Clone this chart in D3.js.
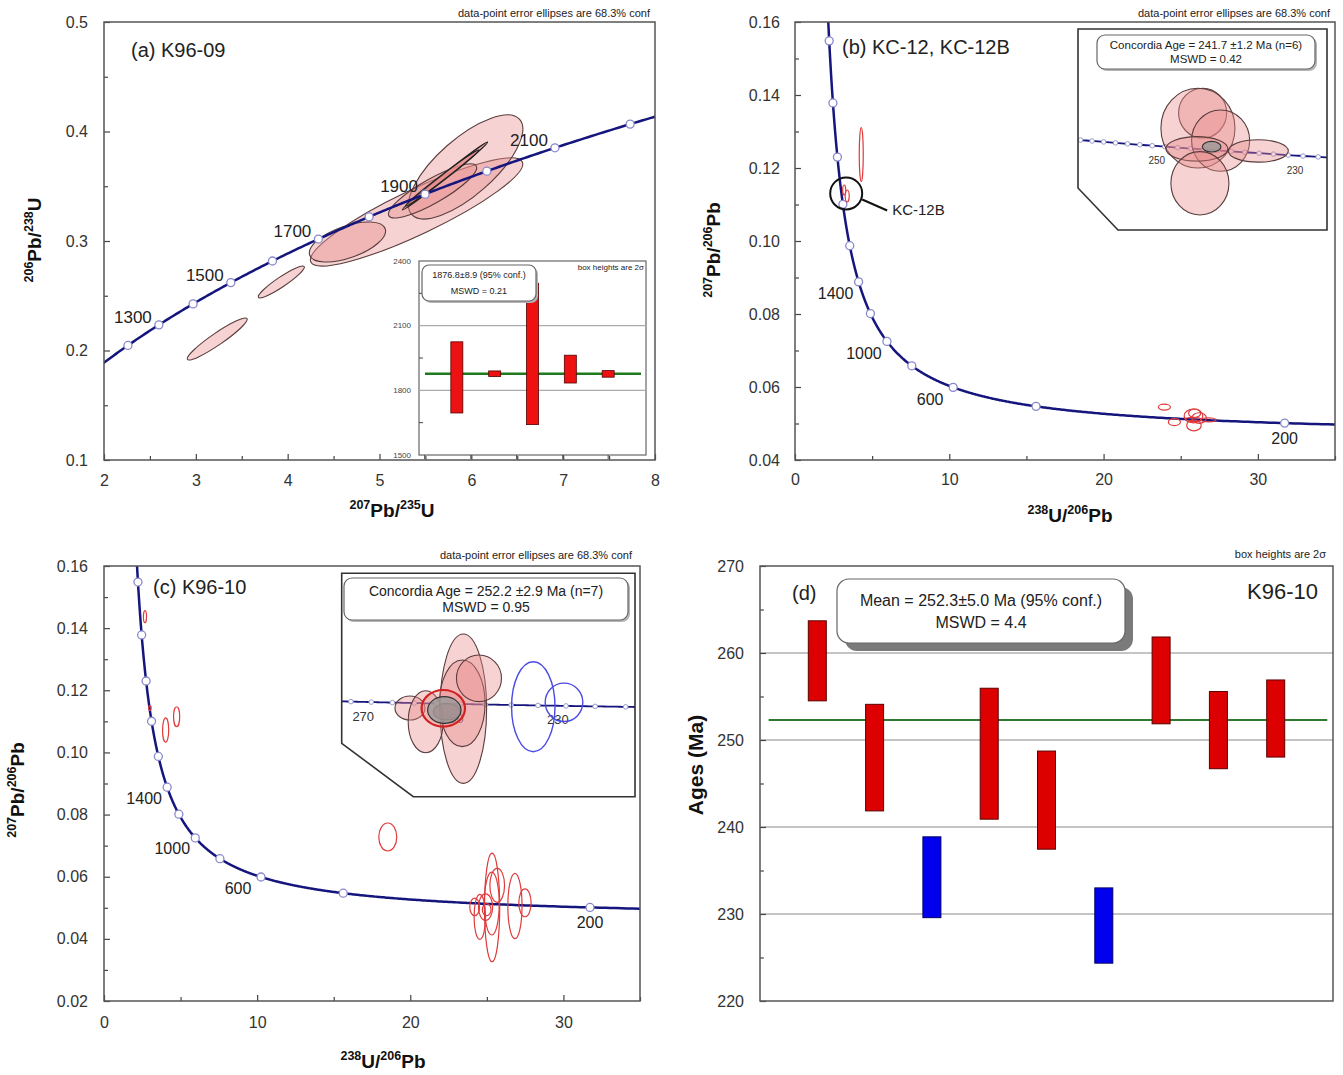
<!DOCTYPE html>
<html><head><meta charset="utf-8">
<script src="https://cdn.jsdelivr.net/npm/d3@7"></script>
<style>body{margin:0;background:#fff;} svg{font-family:"Liberation Sans",Arial,sans-serif;}</style>
</head><body>
<svg id="c" width="1343" height="1075"></svg>
<script>
// ================= DATA =================
// decay constants (per Ma) used for the concordia reference curves
const L238 = 1.55125e-4, L235 = 9.8485e-4, U85 = 137.88;

// ---- panel (a) K96-09, Wetherill concordia ----
const aDotAges   = [1200,1300,1400,1500,1600,1700,1800,1900,2000,2100,2200];
const aLabelAges = [1300,1500,1700,1900,2100];
const aXTicks = [2,3,4,5,6,7,8];
const aYTicks = [0.1,0.2,0.3,0.4,0.5];
const aEllX   = [3.233, 3.931, 5.404, 5.938, 4.651, 5.578, 5.714, 5.682];
const aEllY   = [0.2105, 0.2626, 0.3265, 0.3676, 0.2991, 0.3457, 0.3594, 0.3575];
const aEllSx  = [0.327, 0.251, 1.156, 0.622, 0.415, 0.48, 0.464, 0.398];
const aEllSy  = [0.0192, 0.0146, 0.0493, 0.0475, 0.0183, 0.0247, 0.031, 0.0256];
const aEllRho = [0.94, 0.93, 0.89, 0.73, 0.55, 0.86, 0.996, 0.993];
// inset weighted mean (Ma)
const aMeanLo = [1695, 1864, 1641, 1834, 1861];
const aMeanHi = [2025, 1890, 2297, 1963, 1891.5];
const aMean = 1876.8;
const aInsetTicks = [1500,1800,2100,2400];

// ---- Tera-Wasserburg concordia markers (panels b, c) ----
const twDotAges   = [200,400,600,800,1000,1200,1400,1600,1800,2000,2200,2400];
const twLabelAges = [200,600,1000,1400];
const twXTicks = [0,10,20,30];
const bYTicks = [0.04,0.06,0.08,0.10,0.12,0.14,0.16];
const cYTicks = [0.02,0.04,0.06,0.08,0.10,0.12,0.14,0.16];

// ---- panel (b) KC-12, KC-12B ----
const bEllX  = [25.902, 25.826, 26.194, 25.809, 26.805, 25.858];
const bEllY  = [0.05279, 0.05208, 0.05149, 0.05110, 0.05100, 0.04947];
const bEllSx = [0.390, 0.601, 0.471, 0.503, 0.487, 0.471];
const bEllSy = [0.00118, 0.00189, 0.00145, 0.00058, 0.00053, 0.00150];
const bOutX  = [23.94, 24.59, 4.294, 3.188, 3.383];
const bOutY  = [0.0545, 0.0504, 0.1237, 0.11397, 0.11233];
const bOutSx = [0.39, 0.39, 0.13, 0.10, 0.13];
const bOutSy = [0.00082, 0.00096, 0.0074, 0.00137, 0.00164];
const bConc  = {age: 241.7, x: 26.048, y: 0.05120, sx: 0.151, sy: 0.00025};
const bInsetDotAges = [200,202,204,206,208,210,212,214,216,218,220,222,224,226,228,230,232,234,236,238,240,242,244,246,248,250,252,254,256,258,260,262,264,266,268,270,272,274,276,278,280];
const bInsetLabelAges = [230,250,270];
const bCallout = {x: 3.318, y: 0.11302, label: "KC-12B"};

// ---- panel (c) K96-10 ----
const cEllX  = [25.342, 25.320, 25.676, 24.205, 24.540, 24.915, 24.988];
const cEllY  = [0.05011, 0.05137, 0.05722, 0.05027, 0.04707, 0.05020, 0.04940];
const cEllSx = [0.497, 0.486, 0.480, 0.320, 0.373, 0.463, 0.284];
const cEllSy = [0.01747, 0.01013, 0.00545, 0.00281, 0.00725, 0.00428, 0.00194];
const cRejX  = [26.834, 27.489];
const cRejY  = [0.05057, 0.05160];
const cRejSx = [0.463, 0.401];
const cRejSy = [0.01052, 0.00449];
const cOutX  = [2.675, 3.0, 4.025, 4.742, 18.53];
const cOutY  = [0.14368, 0.1143, 0.10722, 0.1115, 0.07278];
const cOutSx = [0.10, 0.08, 0.20, 0.20, 0.587];
const cOutSy = [0.00193, 0.0008, 0.0039, 0.0032, 0.0045];
const cConc  = {age: 252.2, x: 24.937, y: 0.04980, sx: 0.356, sy: 0.00311};
const cInsetDotAges = [200,205,210,215,220,225,230,235,240,245,250,255,260,265,270,275,280,285,290];
const cInsetLabelAges = [230,250,270];

// ---- panel (d) K96-10 weighted mean ----
const dLo = [254.5, 241.85, 229.58, 240.9, 237.45, 224.35, 251.86, 246.7, 248.04];
const dHi = [263.7, 254.1, 238.87, 255.95, 248.73, 233.0, 261.84, 255.57, 256.9];
const dRejected = [false,false,true,false,false,true,false,false,false];
const dMean = 252.3;
const dYTicks = [220,230,240,250,260,270];
const dMinor = [225,235,245,255,265];

// ================= HELPERS =================
const svg = d3.select('#c');
const defs = svg.append('defs');
const wether = t => [Math.exp(L235*t)-1, Math.exp(L238*t)-1];
const tw = t => { const e8 = Math.exp(L238*t)-1, e5 = Math.exp(L235*t)-1; return [1/e8, e5/e8/U85]; };

function ellipse(g, xs, ys, cx, cy, sx, sy, rho){
  const kx = (xs.range()[1]-xs.range()[0])/(xs.domain()[1]-xs.domain()[0]);
  const ky = (ys.range()[1]-ys.range()[0])/(ys.domain()[1]-ys.domain()[0]);
  const px = kx*sx, py = ky*sy;
  const cxx = px*px, cyy = py*py, cxy = rho*px*py;
  const th = 0.5*Math.atan2(2*cxy, cxx-cyy);
  const m = (cxx+cyy)/2, d = Math.sqrt(((cxx-cyy)/2)**2 + cxy*cxy);
  const r1 = Math.sqrt(m+d), r2 = Math.sqrt(Math.max(m-d, 0.02));
  return g.append('ellipse').attr('rx', r1).attr('ry', r2)
    .attr('transform', `translate(${xs(cx)},${ys(cy)}) rotate(${th*180/Math.PI})`);
}

function clip(id, x, y, w, h){
  defs.append('clipPath').attr('id', id).append('rect').attr('x',x).attr('y',y).attr('width',w).attr('height',h);
}

function axes(g, xs, ys, o){
  const y0 = ys.range()[0], x0 = xs.range()[0];
  const style = s => { s.select('.domain').remove(); s.selectAll('line').attr('stroke','#444').attr('stroke-width',1.2);
    s.selectAll('text').attr('fill','#333').attr('font-size', o.fs||16).attr('font-family','"Liberation Sans",Arial,sans-serif'); };
  if (o.xTicks) g.append('g').attr('transform',`translate(0,${y0})`)
    .call(d3.axisBottom(xs).tickValues(o.xTicks).tickSize(-6).tickPadding(o.xPad||14).tickFormat(o.xFmt)).call(style);
  if (o.xMinor) g.append('g').attr('transform',`translate(0,${y0})`)
    .call(d3.axisBottom(xs).tickValues(o.xMinor).tickSize(-4).tickFormat('')).call(style);
  g.append('g').attr('transform',`translate(${x0},0)`)
    .call(d3.axisLeft(ys).tickValues(o.yTicks).tickSize(-6).tickPadding(o.yPad||15).tickFormat(o.yFmt)).call(style);
  if (o.yMinor) g.append('g').attr('transform',`translate(${x0},0)`)
    .call(d3.axisLeft(ys).tickValues(o.yMinor).tickSize(-4).tickFormat('')).call(style);
  const [xa,xb] = xs.range(), [ya,yb] = ys.range();
  g.append('rect').attr('x',xa).attr('y',yb).attr('width',xb-xa).attr('height',ya-yb)
    .attr('fill','none').attr('stroke','#555').attr('stroke-width',1.5);
}

function isoTitle(x, y, segs, size, rot){
  const t = svg.append('text').attr('x',x).attr('y',y).attr('text-anchor','middle')
    .attr('font-weight','bold').attr('font-size',size).attr('fill','#111');
  if (rot) t.attr('transform',`rotate(-90,${x},${y})`);
  let up = false;
  segs.forEach(([s,sup]) => {
    const ts = t.append('tspan').text(s);
    if (sup && !up){ ts.attr('dy', -size*0.42).attr('font-size', size*0.66); up = true; }
    else if (sup && up){ ts.attr('font-size', size*0.66); }
    else if (!sup && up){ ts.attr('dy', size*0.42); up = false; }
  });
}

// text box: lines centred vertically with a given line gap
function textBox(x, y, w, h, lines, fs, shadow, r, gap){
  if (shadow) svg.append('rect').attr('x',x+shadow).attr('y',y+shadow).attr('width',w).attr('height',h).attr('rx',r).attr('fill', shadow>4 ? '#7a7a7a' : '#b5b5b5');
  svg.append('rect').attr('x',x).attr('y',y).attr('width',w).attr('height',h).attr('rx',r)
    .attr('fill','#fff').attr('stroke','#666').attr('stroke-width',1.2);
  const mid = y + h/2, n = lines.length;
  lines.forEach((l,i) => svg.append('text').attr('x',x+w/2).attr('y', mid + (i-(n-1)/2)*gap + fs*0.35)
    .attr('text-anchor','middle').attr('font-size',fs).attr('fill','#222').text(l));
}

function note(x, y, txt, fs){
  svg.append('text').attr('x',x).attr('y',y).attr('text-anchor','end').attr('font-size',fs).attr('fill','#222').text(txt);
}

const ELL_FILL = '#e88a8a', ELL_OP = 0.38, ELL_STROKE = '#5a3c3c';
const CURVE = '#15157e';

// ================= PANEL (a) =================
const xa = d3.scaleLinear([2,8],[104,655]);
const ya = d3.scaleLinear([0.1,0.5],[460,22]);
clip('clipA', 104, 22, 551, 438);
const ga = svg.append('g');
const gaIn = ga.append('g').attr('clip-path','url(#clipA)');
aEllX.forEach((x,i) => {
  const thin = aEllRho[i] > 0.99;
  ellipse(gaIn, xa, ya, x, aEllY[i], aEllSx[i], aEllSy[i], aEllRho[i])
    .attr('fill', ELL_FILL).attr('fill-opacity', thin ? 0.6 : ELL_OP)
    .attr('stroke', thin ? '#222' : ELL_STROKE).attr('stroke-width', thin ? 1.3 : 1.1);
});
const aCurve = d3.range(1000, 2600, 5).map(wether);
gaIn.append('path').attr('d', d3.line().x(d=>xa(d[0])).y(d=>ya(d[1]))(aCurve))
  .attr('fill','none').attr('stroke',CURVE).attr('stroke-width',2.5);
aDotAges.forEach(t => { const p = wether(t);
  gaIn.append('circle').attr('cx',xa(p[0])).attr('cy',ya(p[1])).attr('r',4)
    .attr('fill','#fff').attr('stroke','#8888cc').attr('stroke-width',1.3); });
aLabelAges.forEach(t => { const p = wether(t);
  ga.append('text').attr('x',xa(p[0])-26).attr('y',ya(p[1])-8).attr('dy','0.35em')
    .attr('text-anchor','middle').attr('font-size',17).attr('fill','#222').text(t); });
axes(ga, xa, ya, {xTicks:aXTicks, xFmt:d3.format('d'), xMinor:[2.5,3.5,4.5,5.5,6.5,7.5],
  yTicks:aYTicks, yFmt:d3.format('.1f'), yMinor:[0.15,0.25,0.35,0.45], xPad:15, yPad:16});
ga.append('text').attr('x',131).attr('y',57).attr('font-size',20).attr('fill','#222').text('(a) K96-09');
note(650, 17, 'data-point error ellipses are 68.3% conf', 11);
isoTitle(392, 517, [['207',1],['Pb',0],['/',0],['235',1],['U',0]], 19, false);
isoTitle(41, 240, [['206',1],['Pb',0],['/',0],['238',1],['U',0]], 19, true);

// inset of (a)
const xai = d3.scaleLinear([0,6],[419,646]);
const yai = d3.scaleLinear([1500,2400],[455,261]);
svg.append('rect').attr('x',419).attr('y',261).attr('width',227).attr('height',194)
  .attr('fill','#fff').attr('stroke','#666').attr('stroke-width',1.2);
[1800,2100].forEach(v => svg.append('line').attr('x1',419).attr('x2',646).attr('y1',yai(v)).attr('y2',yai(v))
  .attr('stroke','#aaa').attr('stroke-width',1.2));
aInsetTicks.forEach(v => svg.append('text').attr('x',411).attr('y',yai(v)).attr('dy','0.35em')
  .attr('text-anchor','end').attr('font-size',8).attr('fill','#444').text(v));
[1650,1950,2250].forEach(v => svg.append('line').attr('x1',419).attr('x2',423).attr('y1',yai(v)).attr('y2',yai(v)).attr('stroke','#444'));
[0.15,1.37,2.58,3.8,5.0].forEach(v => svg.append('line').attr('x1',xai(v)).attr('x2',xai(v)).attr('y1',455).attr('y2',459).attr('stroke','#444'));
svg.append('line').attr('x1',425).attr('x2',641).attr('y1',yai(aMean)).attr('y2',yai(aMean))
  .attr('stroke','#1d7a1d').attr('stroke-width',2.5);
aMeanLo.forEach((lo,i) => svg.append('rect').attr('x',xai(i+1)-6).attr('width',12)
  .attr('y',yai(aMeanHi[i])).attr('height',yai(lo)-yai(aMeanHi[i]))
  .attr('fill','#ee1111').attr('stroke','#550000').attr('stroke-width',0.8));
textBox(422, 265, 114, 36, ['1876.8±8.9  (95% conf.)', 'MSWD = 0.21'], 9, 2, 7, 16);
note(644, 270, 'box heights are 2σ', 8);

// ================= PANEL (b) =================
const xb = d3.scaleLinear([0,35],[795,1335]);
const yb = d3.scaleLinear([0.04,0.16],[460,22]);
clip('clipB', 795, 22, 540, 438);
const gb = svg.append('g');
const gbIn = gb.append('g').attr('clip-path','url(#clipB)');
const twCurve = d3.range(150, 2700, 2).map(tw);
gbIn.append('path').attr('d', d3.line().x(d=>xb(d[0])).y(d=>yb(d[1]))(twCurve))
  .attr('fill','none').attr('stroke',CURVE).attr('stroke-width',2.5);
twDotAges.forEach(t => { const p = tw(t);
  gbIn.append('circle').attr('cx',xb(p[0])).attr('cy',yb(p[1])).attr('r',4)
    .attr('fill','#fff').attr('stroke','#8888cc').attr('stroke-width',1.3); });
twLabelAges.forEach(t => { const p = tw(t);
  gb.append('text').attr('x',xb(p[0]) + (t<=200?0:-23)).attr('y',yb(p[1]) + (t<=200?15:12)).attr('dy','0.35em')
    .attr('text-anchor','middle').attr('font-size',16).attr('fill','#222').text(t); });
bEllX.concat(bOutX).forEach((x,i) => {
  const y = bEllY.concat(bOutY)[i], sx = bEllSx.concat(bOutSx)[i], sy = bEllSy.concat(bOutSy)[i];
  ellipse(gbIn, xb, yb, x, y, sx, sy, 0).attr('fill','none').attr('stroke','#e03a3a').attr('stroke-width',1.2);
});
// KC-12B callout
{ const cx = xb(bCallout.x), cy = yb(bCallout.y);
  gb.append('circle').attr('cx',cx).attr('cy',cy).attr('r',16).attr('fill','none').attr('stroke','#111').attr('stroke-width',2);
  gb.append('line').attr('x1',cx+16).attr('y1',cy+6).attr('x2',cx+41).attr('y2',cy+17).attr('stroke','#111').attr('stroke-width',2);
  gb.append('text').attr('x',cx+46).attr('y',cy+22).attr('font-size',15).attr('fill','#222').text(bCallout.label); }
axes(gb, xb, yb, {xTicks:twXTicks, xFmt:d3.format('d'), xMinor:[5,15,25,35],
  yTicks:bYTicks, yFmt:d3.format('.2f'), yMinor:[0.05,0.07,0.09,0.11,0.13,0.15], xPad:14, yPad:15});
gb.append('text').attr('x',842).attr('y',54).attr('font-size',20).attr('fill','#222').text('(b) KC-12, KC-12B');
note(1330, 17, 'data-point error ellipses are 68.3% conf', 11);
isoTitle(1070, 522, [['238',1],['U',0],['/',0],['206',1],['Pb',0]], 19, false);
isoTitle(720, 250, [['207',1],['Pb',0],['/',0],['206',1],['Pb',0]], 19, true);

// Tera-Wasserburg inset
function insetTW(id, pts, xs, ys, dotAges, labelAges, ell, conc, rej, boxArgs, labFs){
  const poly = pts.map(p=>p.join(',')).join(' ');
  svg.append('polygon').attr('points',poly).attr('fill','#fff');
  defs.append('clipPath').attr('id',id).append('polygon').attr('points',poly);
  const g = svg.append('g').attr('clip-path',`url(#${id})`);
  const ln = d3.range(180, 320, 0.5).map(tw);
  g.append('path').attr('d', d3.line().x(d=>xs(d[0])).y(d=>ys(d[1]))(ln))
    .attr('fill','none').attr('stroke',CURVE).attr('stroke-width',1.8);
  dotAges.forEach(t => { const p = tw(t);
    g.append('circle').attr('cx',xs(p[0])).attr('cy',ys(p[1])).attr('r',2.3)
      .attr('fill','#fff').attr('stroke','#9a9ad0').attr('stroke-width',1); });
  labelAges.forEach(t => { const p = tw(t);
    g.append('text').attr('x',xs(p[0])-8).attr('y',ys(p[1])+14).attr('dy','0.35em')
      .attr('text-anchor','middle').attr('font-size',labFs).attr('fill','#333').text(t); });
  ell.x.forEach((x,i) => {
    const e = ellipse(g, xs, ys, x, ell.y[i], ell.sx[i], ell.sy[i], 0)
      .attr('fill', ELL_FILL).attr('fill-opacity', ELL_OP).attr('stroke', ELL_STROKE).attr('stroke-width',1.1);
    if (ell.special === i) e.attr('stroke','#d02020').attr('stroke-width',2.2);
    if (ell.dark === i) e.attr('fill','#c04545').attr('fill-opacity',0.5);
  });
  ellipse(g, xs, ys, conc.x, conc.y, conc.sx, conc.sy, 0)
    .attr('fill','#9a9a9a').attr('fill-opacity',0.8).attr('stroke','#333').attr('stroke-width',1.2);
  if (rej) rej.x.forEach((x,i) => ellipse(g, xs, ys, x, rej.y[i], rej.sx[i], rej.sy[i], 0)
    .attr('fill','none').attr('stroke','#4a4ae6').attr('stroke-width',1.4));
  svg.append('polygon').attr('points',poly).attr('fill','none').attr('stroke','#333').attr('stroke-width',1.6);
  textBox(...boxArgs);
}
const xbi = d3.scaleLinear([23.88, 27.92],[1078,1327]);
const ybi = d3.scaleLinear([0.04726, 0.05677],[230,29]);
insetTW('clipBI', [[1078,29],[1327,29],[1327,230],[1118,230],[1078,188]], xbi, ybi,
  bInsetDotAges, bInsetLabelAges, {x:bEllX, y:bEllY, sx:bEllSx, sy:bEllSy}, bConc, null,
  [1097, 35, 218, 34, ['Concordia Age = 241.7 ±1.2 Ma (n=6)', 'MSWD = 0.42'], 11.5, 2, 8, 13.5], 10);

// ================= PANEL (c) =================
const xc = d3.scaleLinear([0,35],[104,640]);
const yc = d3.scaleLinear([0.02,0.16],[1001,566]);
clip('clipC', 104, 566, 536, 435);
const gc = svg.append('g');
const gcIn = gc.append('g').attr('clip-path','url(#clipC)');
gcIn.append('path').attr('d', d3.line().x(d=>xc(d[0])).y(d=>yc(d[1]))(twCurve))
  .attr('fill','none').attr('stroke',CURVE).attr('stroke-width',2.5);
twDotAges.forEach(t => { const p = tw(t);
  gcIn.append('circle').attr('cx',xc(p[0])).attr('cy',yc(p[1])).attr('r',4)
    .attr('fill','#fff').attr('stroke','#8888cc').attr('stroke-width',1.3); });
twLabelAges.forEach(t => { const p = tw(t);
  gc.append('text').attr('x',xc(p[0]) + (t<=200?0:-23)).attr('y',yc(p[1]) + (t<=200?15:11)).attr('dy','0.35em')
    .attr('text-anchor','middle').attr('font-size',16).attr('fill','#222').text(t); });
{ const X = cEllX.concat(cRejX, cOutX), Y = cEllY.concat(cRejY, cOutY),
        SX = cEllSx.concat(cRejSx, cOutSx), SY = cEllSy.concat(cRejSy, cOutSy);
  X.forEach((x,i) => ellipse(gcIn, xc, yc, x, Y[i], SX[i], SY[i], 0)
    .attr('fill','none').attr('stroke','#e03a3a').attr('stroke-width',1.2)); }
axes(gc, xc, yc, {xTicks:twXTicks, xFmt:d3.format('d'), xMinor:[5,15,25,35],
  yTicks:cYTicks, yFmt:d3.format('.2f'), yMinor:[0.03,0.05,0.07,0.09,0.11,0.13,0.15], xPad:16, yPad:16});
gc.append('text').attr('x',153).attr('y',594).attr('font-size',20).attr('fill','#222').text('(c) K96-10');
note(632, 559, 'data-point error ellipses are 68.3% conf', 11);
isoTitle(383, 1068, [['238',1],['U',0],['/',0],['206',1],['Pb',0]], 19, false);
isoTitle(24, 790, [['207',1],['Pb',0],['/',0],['206',1],['Pb',0]], 19, true);

const xci = d3.scaleLinear([22.749, 29.003],[341.7,635]);
const yci = d3.scaleLinear([0.02953, 0.08177],[796.7,573.3]);
insetTW('clipCI', [[341.7,573.3],[635,573.3],[635,796.7],[413.3,796.7],[341.7,743.3]], xci, yci,
  cInsetDotAges, cInsetLabelAges, {x:cEllX, y:cEllY, sx:cEllSx, sy:cEllSy, special:5, dark:6}, cConc,
  {x:cRejX, y:cRejY, sx:cRejSx, sy:cRejSy},
  [344, 578, 284, 42, ['Concordia Age = 252.2 ±2.9 Ma (n=7)', 'MSWD = 0.95'], 14, 2, 8, 16], 13);

// ================= PANEL (d) =================
const xd = d3.scaleLinear([0,10],[760,1333]);
const yd = d3.scaleLinear([220,270],[1001,566]);
const gd = svg.append('g');
[230,240,250,260].forEach(v => gd.append('line').attr('x1',760).attr('x2',1333).attr('y1',yd(v)).attr('y2',yd(v))
  .attr('stroke','#b0b0b0').attr('stroke-width',1.5));
gd.append('line').attr('x1',xd(0.15)).attr('x2',xd(9.9)).attr('y1',yd(dMean)).attr('y2',yd(dMean))
  .attr('stroke','#2f7a2f').attr('stroke-width',2);
dLo.forEach((lo,i) => gd.append('rect').attr('x',xd(i+1)-9).attr('width',18)
  .attr('y',yd(dHi[i])).attr('height',yd(lo)-yd(dHi[i]))
  .attr('fill', dRejected[i] ? '#0000ee' : '#dd0000')
  .attr('stroke', dRejected[i] ? '#000066' : '#5a0000').attr('stroke-width',1));
axes(gd, xd, yd, {yTicks:dYTicks, yFmt:d3.format('d'), yMinor:dMinor, yPad:16});
gd.append('text').attr('x',792).attr('y',600).attr('font-size',20).attr('fill','#222').text('(d)');
gd.append('text').attr('x',1318).attr('y',599).attr('text-anchor','end').attr('font-size',22).attr('fill','#222').text('K96-10');
textBox(837, 579, 288, 64, ['Mean = 252.3±5.0  Ma (95% conf.)', 'MSWD = 4.4'], 16, 8, 12, 22);
note(1326, 558, 'box heights are 2σ', 11);
svg.append('text').attr('x',703).attr('y',765).attr('transform','rotate(-90,703,765)')
  .attr('text-anchor','middle').attr('font-size',21).attr('font-weight','bold').attr('fill','#111').text('Ages (Ma)');
</script>
</body></html>
